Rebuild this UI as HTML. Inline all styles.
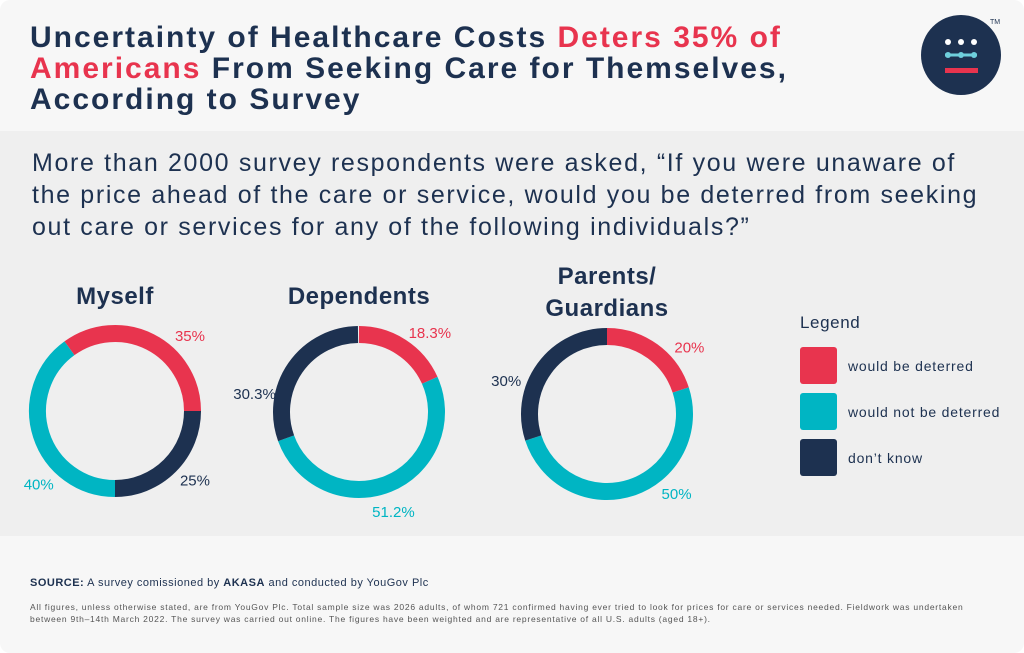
<!DOCTYPE html>
<html><head><meta charset="utf-8"><style>
body{margin:0;width:1024px;height:653px;background:#fff;font-family:"Liberation Sans",sans-serif;overflow:hidden;position:relative}
.card{position:absolute;left:0;top:0;width:1024px;height:653px;background:#f7f7f7;border-radius:10px;overflow:hidden}
.mid{position:absolute;left:0;top:131px;width:1024px;height:405px;background:#efefef}
h1{position:absolute;left:30px;top:22px;margin:0;font-size:30px;line-height:31px;color:#1d3150;font-weight:bold;letter-spacing:2px;white-space:nowrap}
h1 span{color:#e8344e}
.q{position:absolute;left:32px;top:147px;font-size:25px;line-height:32px;color:#1d3150;white-space:nowrap;letter-spacing:1.65px}
.src{position:absolute;left:30px;top:577px;font-size:11px;color:#1d3150;letter-spacing:0.5px}
.fn{position:absolute;left:30px;top:601px;font-size:8.5px;line-height:12px;color:#555;white-space:nowrap;letter-spacing:0.75px}
</style></head><body>
<div class="card">
<h1>Uncertainty of Healthcare Costs <span>Deters 35% of<br>Americans</span> From Seeking Care for Themselves,<br>According to Survey</h1>
<svg style="position:absolute;left:920px;top:14px" width="90" height="84">
<circle cx="41" cy="41" r="40" fill="#1d3150"/>
<circle cx="28" cy="28" r="3" fill="#fff"/><circle cx="41" cy="28" r="3" fill="#fff"/><circle cx="54" cy="28" r="3" fill="#fff"/>
<line x1="25" y1="41" x2="57" y2="41" stroke="#6fcfdc" stroke-width="3"/>
<circle cx="28" cy="41" r="3" fill="#6fcfdc"/><circle cx="41" cy="41" r="3" fill="#6fcfdc"/><circle cx="54" cy="41" r="3" fill="#6fcfdc"/>
<rect x="25" y="54" width="33" height="5" fill="#e8344e"/>
<text x="70" y="10" font-size="7" fill="#1d3150" font-family="Liberation Sans">TM</text>
</svg>
<div class="mid"></div>
<div class="q">More than 2000 survey respondents were asked, “If you were unaware of<br>the price ahead of the care or service, would you be deterred from seeking<br>out care or services for any of the following individuals?”</div>
<svg id="chart" style="position:absolute;left:0;top:0" width="1024" height="653"></svg>
<div class="src"><b>SOURCE:</b> A survey comissioned by <b>AKASA</b> and conducted by YouGov Plc</div>
<div class="fn">All figures, unless otherwise stated, are from YouGov Plc. Total sample size was 2026 adults, of whom 721 confirmed having ever tried to look for prices for care or services needed. Fieldwork was undertaken<br>between 9th–14th March 2022. The survey was carried out online. The figures have been weighted and are representative of all U.S. adults (aged 18+).</div>
</div>
<script>
const categories=["Myself","Dependents","Parents/Guardians"];
const deterred=[35,18.3,20];
const notDeterred=[40,51.2,50];
const dontKnow=[25,30.3,30];
const valueLabels=[["35%","40%","25%"],["18.3%","51.2%","30.3%"],["20%","50%","30%"]];
const seriesNames=["would be deterred","would not be deterred","don’t know"];
const colors=["#e8344e","#00b5c3","#1d3150"];
const NS="http://www.w3.org/2000/svg";
const svg=document.getElementById('chart');
const centers=[[115,411],[359,412],[607,414]];
const labelShift=[[18,-26,-4],[9,3,-25],[15,-23,-18]];
const R=77.5,W=17,LR=106;
function mk(t,a){const e=document.createElementNS(NS,t);for(const k in a)e.setAttribute(k,a[k]);svg.appendChild(e);return e;}
function pt(cx,cy,r,deg){const a=(deg-90)*Math.PI/180;return [cx+r*Math.cos(a),cy+r*Math.sin(a)];}
function arc(cx,cy,r,a0,a1){const p0=pt(cx,cy,r,a0),p1=pt(cx,cy,r,a1);return `M${p0[0]},${p0[1]} A${r},${r} 0 ${a1-a0>180?1:0} 1 ${p1[0]},${p1[1]}`;}
categories.forEach((c,i)=>{
  const [cx,cy]=centers[i];
  const vals=[deterred[i],notDeterred[i],dontKnow[i]];
  const order=i===0?[0,2,1]:[0,1,2];
  let a=i===0?-vals[0]*3.6+90:0;
  order.forEach(s=>{
    const span=vals[s]*3.6;
    const p=mk('path',{d:arc(cx,cy,R,a,a+span),fill:'none',stroke:colors[s],'stroke-width':W});
    
    
    const mid=a+span/2+labelShift[i][s];
    const lp=pt(cx,cy,LR,mid);
    const t=mk('text',{x:lp[0],y:lp[1]+5,'text-anchor':'middle','font-size':15,fill:colors[s],'font-family':'Liberation Sans'});
    t.textContent=valueLabels[i][s];
    
    
    a+=span;
  });
  const lines=c==="Parents/Guardians"?["Parents/","Guardians"]:[c];
  lines.forEach((l,j)=>{
    const t=mk('text',{x:cx,y:(lines.length>1?284:304)+j*32,'text-anchor':'middle','font-size':24,'font-weight':'bold',fill:'#1d3150','font-family':'Liberation Sans','letter-spacing':0.5});
    t.textContent=l;
    
    
  });
});
const lt=mk('text',{x:800,y:328,'font-size':17,fill:'#1d3150','font-family':'Liberation Sans','letter-spacing':0.6});
lt.textContent="Legend";


seriesNames.forEach((n,k)=>{
  const y=347+k*46;
  const r=mk('rect',{x:800,y:y,width:37,height:37,rx:3,fill:colors[k]});
  
  
  const t=mk('text',{x:848,y:y+24,'font-size':14,fill:'#1d3150','font-family':'Liberation Sans','letter-spacing':0.8});
  t.textContent=n;
  
  
});
</script>
</body></html>
